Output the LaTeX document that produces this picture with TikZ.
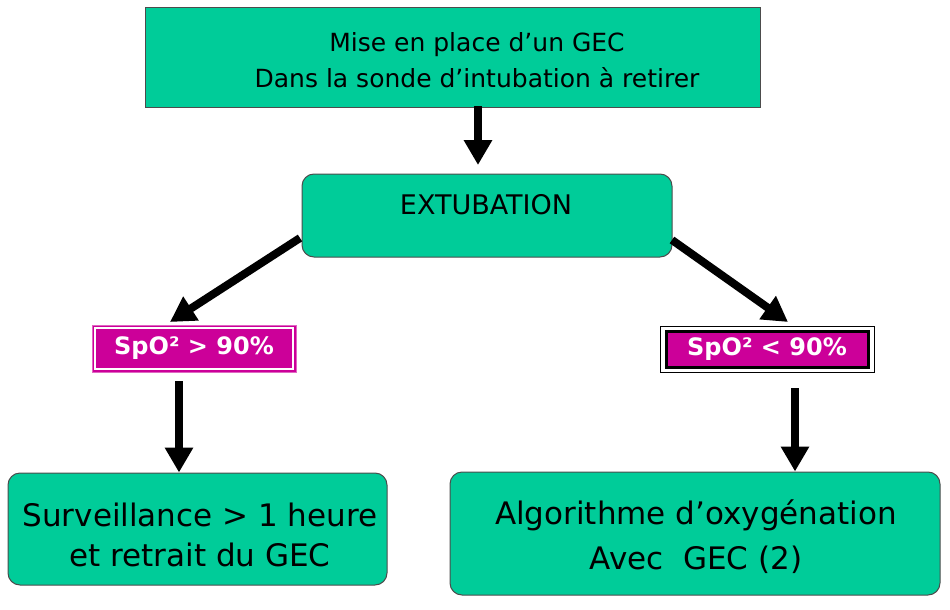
\documentclass[tikz,border=0pt]{standalone}
\usepackage{fontspec}
\setmainfont{DejaVu Sans}
\newfontfamily\verd{DejaVu Sans}
\usetikzlibrary{arrows.meta}
\definecolor{teal1}{HTML}{00CC99}
\definecolor{mag}{HTML}{CC0099}
\begin{document}
\begin{tikzpicture}[x=1pt,y=-1pt,
  box/.style={draw=black!70,line width=1pt,fill=teal1,inner sep=0pt,align=center},
  rbox/.style={box,rounded corners=12pt},
  arr/.style={line width=8pt,-{Triangle[length=25pt,width=27pt]}},
  spo/.style={fill=mag,text=white,font=\verd\bfseries\fontsize{24}{28}\selectfont,inner sep=0pt}]
\useasboundingbox (0,0) rectangle (950,610);
\node[box,minimum width=615pt,minimum height=99pt] (top) at (452.5,57.5) {};
\node[font=\fontsize{25}{36}\selectfont,align=center] (toptxt) at (477,60) {Mise en place d’un GEC\\Dans la sonde d’intubation à retirer};
\node[rbox,minimum width=370pt,minimum height=83pt] (ext) at (487,215.5) {};
\node[font=\fontsize{27}{32}\selectfont] (exttxt) at (486,205) {EXTUBATION};
% left SpO2
\node[spo,draw=mag!60,line width=0.8pt,minimum width=204pt,minimum height=47pt] (s1o) at (194,348.5) {};
\node[spo,draw=white,line width=2pt,minimum width=198pt,minimum height=41pt] (s1) at (194,348.5) {SpO² > 90\%};
% right SpO2
\node[draw=black,line width=1pt,fill=white,minimum width=214pt,minimum height=46pt,inner sep=0pt] (s2o) at (767,349.5) {};
\node[spo,draw=black,line width=3pt,minimum width=202pt,minimum height=36pt] (s2) at (767,349.5) {SpO² < 90\%};
% bottom boxes
\node[rbox,minimum width=379pt,minimum height=112pt] (b1) at (197.5,529) {};
\node[font=\fontsize{31}{40}\selectfont,align=center] (b1t) at (200,535) {Surveillance > 1 heure\\et retrait du GEC};
\node[rbox,minimum width=490pt,minimum height=123pt] (b2) at (695,533.5) {};
\node[font=\fontsize{31}{45}\selectfont,align=center] (b2t) at (696,537) {Algorithme d’oxygénation\\Avec\ \ GEC (2)};
% arrows
\coordinate (a1s) at (478,106);
\coordinate (a1e) at (478,165);
\draw[arr] (a1s) -- (a1e);
\coordinate (a2s) at (300,238);
\coordinate (a2e) at (170,322);
\draw[arr] (a2s) -- (a2e);
\coordinate (a3s) at (672,240);
\coordinate (a3e) at (788,322);
\draw[arr] (a3s) -- (a3e);
\coordinate (a4s) at (179,381);
\draw[arr] (a4s) -- (b1.north -| a4s);
\coordinate (a5s) at (795,388);
\draw[arr] (a5s) -- (b2.north -| a5s);
\end{tikzpicture}
\end{document}
